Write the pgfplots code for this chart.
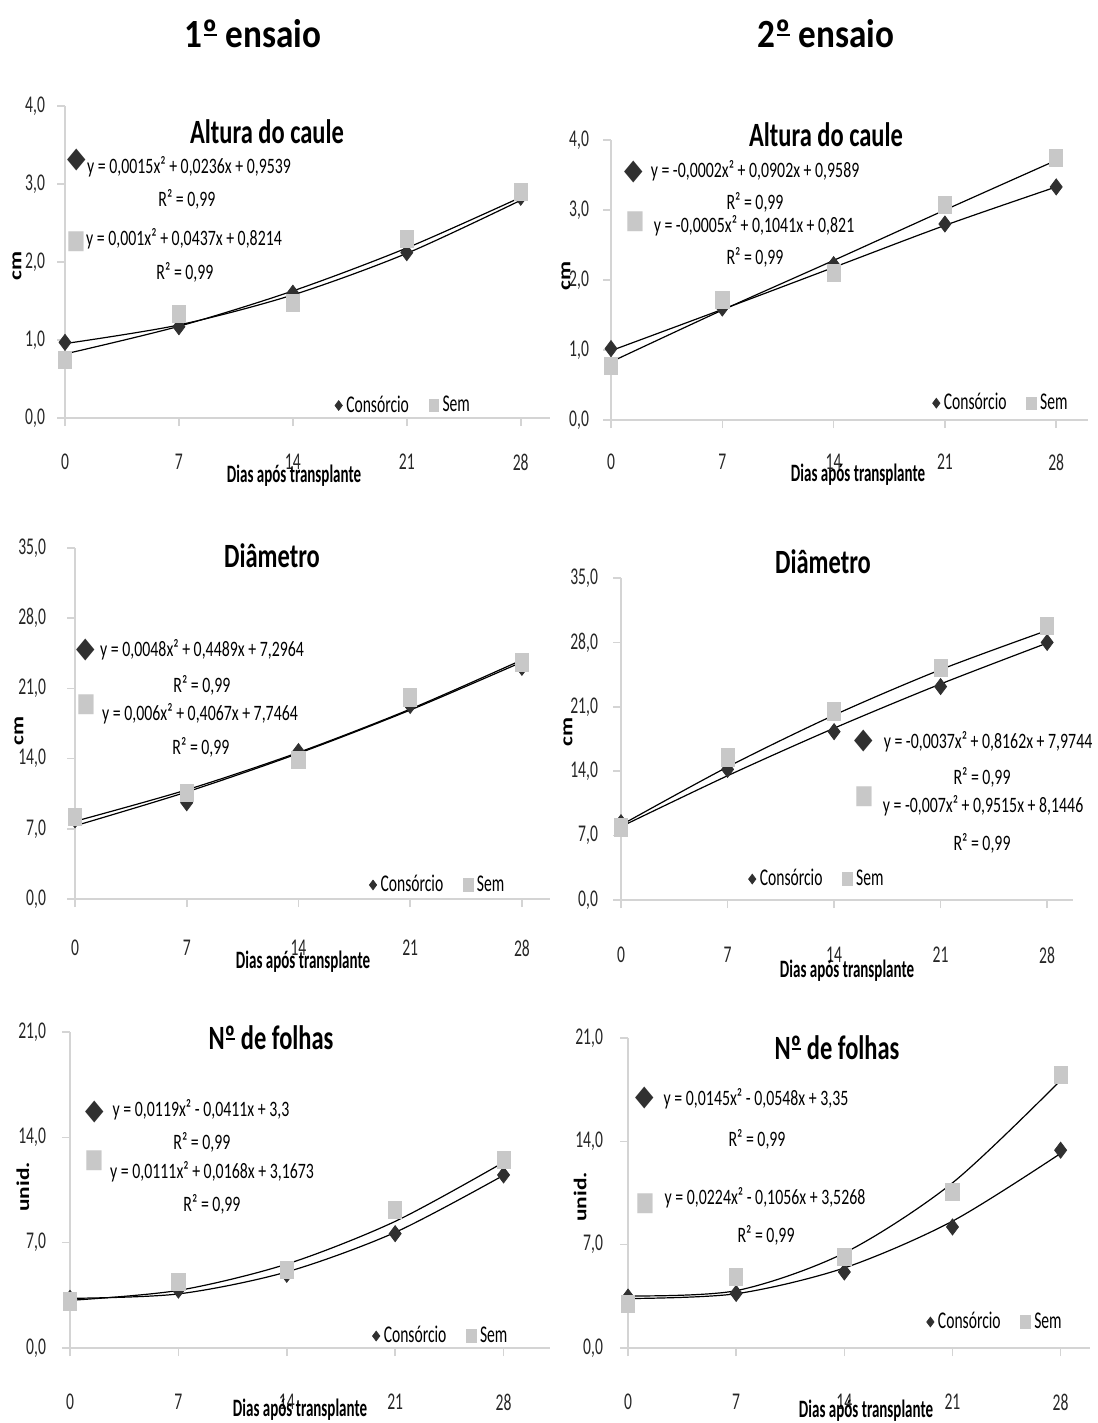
\documentclass[border=0pt]{standalone}
\usepackage{pgfplots}
\pgfplotsset{compat=1.18}
\usepackage{fontspec}
\setmainfont[FakeStretch=0.72]{Carlito}
\newfontfamily\coltitlefont[FakeStretch=0.88]{Carlito}
\newfontfamily\tickfont[FakeStretch=0.65]{Carlito}
\newfontfamily\labfont[FakeStretch=0.6]{Carlito}
\newfontfamily\rotfont[FakeStretch=1.3]{Carlito}
\newfontfamily\symfont{DejaVu Sans}
\definecolor{axgray}{RGB}{212,212,212}
\definecolor{cons}{RGB}{48,48,48}
\definecolor{sem}{RGB}{200,200,200}
\newcommand\ordm{\leavevmode\setbox0\hbox{º}\rlap{\kern0.08\wd0\raisebox{0.29em}{\rule{0.84\wd0}{0.06em}}}\box0}
\newcommand\eqf{\fontsize{11}{13}\selectfont}
\newcommand\ttl{\fontsize{17}{20}\selectfont\bfseries}
\newcommand\dia{{\symfont\fontsize{12}{12}\selectfont\color{cons}\scalebox{1}[1.2]{◆}}}
\newcommand\sqr{{\symfont\fontsize{10}{12}\selectfont\color{sem}\scalebox{1}[1.3]{■}}}
\pgfplotsset{
  panel/.style={
    scale only axis, xmin=0, ymin=0, clip=false,
    axis x line*=bottom, axis y line*=left,
    axis line style={draw=axgray, line width=0.9pt, -},
    xtick={0,7,14,21,28},
    tick style={draw=axgray, line width=0.8pt},
    major tick length=4pt, tick align=outside,
    /pgf/number format/assume math mode=true,
    ticklabel style={font=\tickfont\fontsize{12}{14}\selectfont, text=black!85},
    y tick label style={/pgf/number format/.cd, fixed, fixed zerofill, precision=1, use comma, /tikz/.cd, anchor=east},
    scaled y ticks=false,
    legend columns=2,
    legend cell align=left,
    legend image post style={mark size=2.4pt},
    legend style={draw=none, fill=none, font=\tickfont\fontsize{12}{14}\selectfont, anchor=center,
      /tikz/every even column/.append style={column sep=8pt}},
  },
  cmark/.style={only marks, mark=diamond*, mark size=4pt, color=cons, mark options={fill=cons, draw=cons}},
  smark/.style={only marks, mark=square*, mark size=3.3pt, color=sem, mark options={fill=sem, draw=sem, yscale=1.3}},
  tline/.style={black, line width=0.6pt, smooth, no marks, forget plot},
}
\begin{document}
\begin{tikzpicture}
\useasboundingbox (0,0) rectangle (548.5pt,-711.5pt);

% Panel 1: 1o ensaio, Altura do caule
\begin{axis}[panel, at={(32.5pt,-209pt)}, anchor=south west,
  width=242.5pt, height=156pt, xmax=29.8, ymax=4, ytick={0,1,2,3,4},
  x tick label style={anchor=center, yshift=-18pt},
  y tick label style={xshift=-2.5pt},
  legend style={at={(axis description cs:0.70,0.04)}}]
\addplot[cmark] coordinates {(0,0.97) (7,1.17) (14,1.60) (21,2.12) (28,2.83)};
\addlegendentry{Consórcio}
\addplot[smark] coordinates {(0,0.74) (7,1.33) (14,1.48) (21,2.30) (28,2.90)};
\addlegendentry{Sem}
\addplot[tline] coordinates {(0,0.954) (7,1.193) (14,1.578) (21,2.111) (28,2.791)};
\addplot[tline] coordinates {(0,0.821) (7,1.176) (14,1.629) (21,2.180) (28,2.829)};
\end{axis}

% Panel 2: 2o ensaio, Altura do caule
\begin{axis}[panel, at={(305.5pt,-210pt)}, anchor=south west,
  width=238.5pt, height=140pt, xmax=30, ymax=4, ytick={0,1,2,3,4},
  x tick label style={anchor=center, yshift=-17pt},
  y tick label style={xshift=-3.5pt},
  legend style={at={(axis description cs:0.82,0.06)}}]
\addplot[cmark] coordinates {(0,1.02) (7,1.60) (14,2.22) (21,2.80) (28,3.33)};
\addlegendentry{Consórcio}
\addplot[smark] coordinates {(0,0.77) (7,1.72) (14,2.10) (21,3.07) (28,3.74)};
\addlegendentry{Sem}
\addplot[tline] coordinates {(0,0.99) (7,1.58) (14,2.18) (21,2.78) (28,3.33)};
\addplot[tline] coordinates {(0,0.83) (7,1.57) (14,2.28) (21,3.00) (28,3.71)};
\end{axis}

% Panel 3: 1o ensaio, Diametro
\begin{axis}[panel, at={(37.5pt,-449.5pt)}, anchor=south west,
  width=237.5pt, height=175.5pt, xmax=29.76, ymax=35, ytick={0,7,14,21,28,35},
  x tick label style={anchor=center, yshift=-20.5pt},
  y tick label style={xshift=-7pt},
  legend style={at={(axis description cs:0.766,0.04)}}]
\addplot[cmark] coordinates {(0,7.9) (7,9.6) (14,14.7) (21,19.3) (28,23.1)};
\addlegendentry{Consórcio}
\addplot[smark] coordinates {(0,8.2) (7,10.6) (14,13.9) (21,20.1) (28,23.6)};
\addlegendentry{Sem}
\addplot[tline] coordinates {(0,7.296) (7,10.674) (14,14.522) (21,18.840) (28,23.629)};
\addplot[tline] coordinates {(0,7.746) (7,10.887) (14,14.616) (21,18.933) (28,23.838)};
\end{axis}

% Panel 4: 2o ensaio, Diametro
\begin{axis}[panel, at={(310.5pt,-450pt)}, anchor=south west,
  width=226pt, height=161pt, xmax=29.7, ymax=35, ytick={0,7,14,21,28,35},
  x tick label style={anchor=center, yshift=-23.5pt},
  y tick label style={xshift=-4pt},
  legend style={at={(axis description cs:0.436,0.065)}}]
\addplot[cmark] coordinates {(0,8.4) (7,14.2) (14,18.3) (21,23.2) (28,28.0)};
\addlegendentry{Consórcio}
\addplot[smark] coordinates {(0,7.9) (7,15.5) (14,20.5) (21,25.2) (28,29.8)};
\addlegendentry{Sem}
\addplot[tline] coordinates {(0,7.974) (7,13.507) (14,18.676) (21,23.483) (28,27.927)};
\addplot[tline] coordinates {(0,8.145) (7,14.462) (14,20.094) (21,25.039) (28,29.299)};
\end{axis}

% Panel 5: 1o ensaio, No de folhas
\begin{axis}[panel, at={(35pt,-674pt)}, anchor=south west,
  width=240pt, height=158pt, xmax=31, ymax=21, ytick={0,7,14,21},
  x tick label style={anchor=center, yshift=-23pt},
  y tick label style={xshift=-4.5pt},
  legend style={at={(axis description cs:0.775,0.038)}}]
\addplot[cmark] coordinates {(0,3.3) (7,3.85) (14,4.9) (21,7.6) (28,11.5)};
\addlegendentry{Consórcio}
\addplot[smark] coordinates {(0,3.1) (7,4.4) (14,5.2) (21,9.2) (28,12.5)};
\addlegendentry{Sem}
\addplot[tline] coordinates {(0,3.300) (7,3.595) (14,5.057) (21,7.685) (28,11.479)};
\addplot[tline] coordinates {(0,3.167) (7,3.829) (14,5.578) (21,8.415) (28,12.340)};
\end{axis}

% Panel 6: 2o ensaio, No de folhas
\begin{axis}[panel, at={(314pt,-674pt)}, anchor=south west,
  width=231pt, height=155pt, xmax=29.9, ymax=21, ytick={0,7,14,21},
  x tick label style={anchor=center, yshift=-23pt},
  y tick label style={xshift=-5pt},
  legend style={at={(axis description cs:0.797,0.084)}}]
\addplot[cmark] coordinates {(0,3.45) (7,3.7) (14,5.15) (21,8.2) (28,13.4)};
\addlegendentry{Consórcio}
\addplot[smark] coordinates {(0,3.0) (7,4.8) (14,6.2) (21,10.6) (28,18.5)};
\addlegendentry{Sem}
\addplot[tline] coordinates {(0,3.350) (7,3.677) (14,5.425) (21,8.594) (28,13.184)};
\addplot[tline] coordinates {(0,3.527) (7,3.885) (14,6.439) (21,11.188) (28,18.132)};
\end{axis}

\begin{scope}[x=0.5pt, y=-0.5pt, every node/.style={inner sep=0pt}]
% column titles
\node at (253,34) {\coltitlefont\fontsize{20}{24}\selectfont\bfseries 1\ordm\ ensaio};
\node at (826,34) {\coltitlefont\fontsize{20}{24}\selectfont\bfseries 2\ordm\ ensaio};
% panel titles
\node at (267,132) {\ttl Altura do caule};
\node at (826,135) {\ttl Altura do caule};
\node at (272,556) {\ttl Diâmetro};
\node at (823,562) {\ttl Diâmetro};
\node at (271,1038) {\ttl N\ordm\ de folhas};
\node at (837,1048) {\ttl N\ordm\ de folhas};
% x labels
\node at (294,476) {\labfont\fontsize{12.5}{14}\selectfont\bfseries Dias após transplante};
\node at (858,475) {\labfont\fontsize{12.5}{14}\selectfont\bfseries Dias após transplante};
\node at (303,962) {\labfont\fontsize{12.5}{14}\selectfont\bfseries Dias após transplante};
\node at (847,971) {\labfont\fontsize{12.5}{14}\selectfont\bfseries Dias após transplante};
\node at (300,1410) {\labfont\fontsize{12.5}{14}\selectfont\bfseries Dias após transplante};
\node at (866,1411) {\labfont\fontsize{12.5}{14}\selectfont\bfseries Dias após transplante};
% y labels
\node[rotate=90] at (17,266) {\rotfont\fontsize{9}{11}\selectfont\bfseries cm};
\node[rotate=90] at (566,276) {\rotfont\fontsize{9}{11}\selectfont\bfseries cm};
\node[rotate=90] at (19,731) {\rotfont\fontsize{9}{11}\selectfont\bfseries cm};
\node[rotate=90] at (568,732) {\rotfont\fontsize{9}{11}\selectfont\bfseries cm};
\node[rotate=90] at (23,1187) {\rotfont\fontsize{9}{11}\selectfont\bfseries unid.};
\node[rotate=90] at (580,1197) {\rotfont\fontsize{9}{11}\selectfont\bfseries unid.};
% equations panel 1
\node at (77,160) {\dia};
\node at (189,167) {\eqf y = 0,0015x² + 0,0236x + 0,9539};
\node at (187,199) {\eqf R² = 0,99};
\node at (76,242) {\sqr};
\node at (184,239) {\eqf y = 0,001x² + 0,0437x + 0,8214};
\node at (185,272) {\eqf R² = 0,99};
% equations panel 2
\node at (634,172) {\dia};
\node at (755,171) {\eqf y = -0,0002x² + 0,0902x + 0,9589};
\node at (755,202) {\eqf R² = 0,99};
\node at (635,222) {\sqr};
\node at (754,226) {\eqf y = -0,0005x² + 0,1041x + 0,821};
\node at (755,257) {\eqf R² = 0,99};
% equations panel 3
\node at (86,650) {\dia};
\node at (202,650) {\eqf y = 0,0048x² + 0,4489x + 7,2964};
\node at (202,685) {\eqf R² = 0,99};
\node at (86,705) {\sqr};
\node at (200,714) {\eqf y = 0,006x² + 0,4067x + 7,7464};
\node at (201,747) {\eqf R² = 0,99};
% equations panel 4
\node at (864,741) {\dia};
\node at (988,742) {\eqf y = -0,0037x² + 0,8162x + 7,9744};
\node at (982,777) {\eqf R² = 0,99};
\node at (864,797) {\sqr};
\node at (983,806) {\eqf y = -0,007x² + 0,9515x + 8,1446};
\node at (982,843) {\eqf R² = 0,99};
% equations panel 5
\node at (95,1112) {\dia};
\node at (201,1110) {\eqf y = 0,0119x² - 0,0411x + 3,3};
\node at (202,1142) {\eqf R² = 0,99};
\node at (94,1161) {\sqr};
\node at (212,1172) {\eqf y = 0,0111x² + 0,0168x + 3,1673};
\node at (212,1204) {\eqf R² = 0,99};
% equations panel 6
\node at (645,1098) {\dia};
\node at (756,1099) {\eqf y = 0,0145x² - 0,0548x + 3,35};
\node at (757,1139) {\eqf R² = 0,99};
\node at (645,1204) {\sqr};
\node at (765,1198) {\eqf y = 0,0224x² - 0,1056x + 3,5268};
\node at (766,1235) {\eqf R² = 0,99};
\end{scope}
\end{tikzpicture}
\end{document}
